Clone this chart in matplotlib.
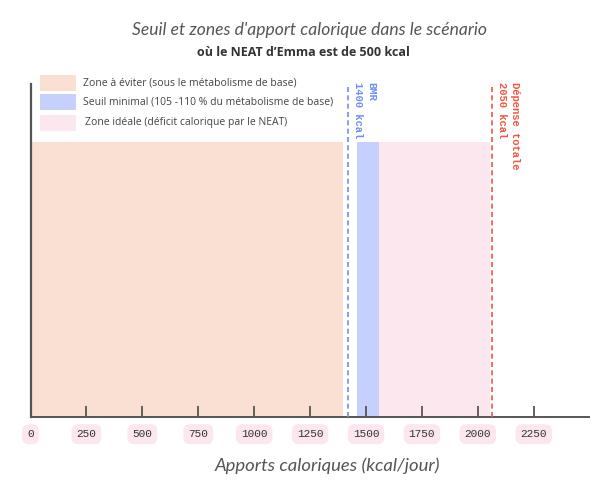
import matplotlib
matplotlib.use("Agg")
import matplotlib.pyplot as plt
from matplotlib.patches import Rectangle

# ---- data ----
zone_names = ["Zone à éviter (sous le métabolisme de base)",
              "Seuil minimal (105 -110 % du métabolisme de base)",
              "Zone idéale (déficit calorique par le NEAT)"]
zone_starts = [0, 1460, 1560]
zone_ends = [1395, 1560, 2055]
zone_colors = ["#fadfd3", "#c6d0fc", "#fde7ee"]
zone_height = 0.825

line_positions = [1418, 2062]
line_labels = ["BMR\n1400 kcal", "Dépense totale\n2050 kcal"]
line_colors = ["#6f8ef3", "#f5543e"]

xticks = [0, 250, 500, 750, 1000, 1250, 1500, 1750, 2000, 2250]
xmax = 2497

W, H = 604, 487
fig = plt.figure(figsize=(W / 100, H / 100), dpi=100)
ax = fig.add_axes([30.5 / W, 1 - 416.7 / H, (589 - 30.5) / W, (416.7 - 84) / H])

for s, e, c in zip(zone_starts, zone_ends, zone_colors):
    ax.bar(s, zone_height, width=e - s, align="edge", color=c, linewidth=0, zorder=1)

for x, lab, c in zip(line_positions, line_labels, line_colors):
    ax.axvline(x, color=c, linestyle=(0, (3, 2)), linewidth=1.2, zorder=3)
    ax.text(x + 22, 1.007, lab, rotation=-90, ha="left", va="top", color=c,
            family="Liberation Mono", fontweight="bold", fontsize=7.6,
            linespacing=1.45, zorder=4, clip_on=False)

ax.set_xlim(0, xmax)
ax.set_ylim(0, 1)
ax.set_yticks([])
ax.set_xticks(xticks)
ax.set_xticklabels([str(t) for t in xticks], family="Liberation Mono", fontsize=8, color="#333")
ax.tick_params(axis="x", direction="in", length=8, width=1.3, color="#555", pad=9)
for lbl in ax.get_xticklabels():
    lbl.set_bbox(dict(boxstyle="round,pad=0.45,rounding_size=0.6", fc="#fde7ee", ec="none"))

for side in ["top", "right"]:
    ax.spines[side].set_visible(False)
ax.spines["bottom"].set_color("#555")
ax.spines["bottom"].set_linewidth(1.4)
ax.spines["left"].set_color("#555")
ax.spines["left"].set_linewidth(1.6)

# legend drawn in figure pixel coords
leg_tops = [75, 94, 115]
for i, (name, c) in enumerate(zip(zone_names, zone_colors)):
    top = leg_tops[i]
    fig.add_artist(Rectangle((40 / W, 1 - (top + 16) / H), 36 / W, 16 / H,
                             transform=fig.transFigure, fc=c, ec="none"))
    fig.text((83 + (2 if i == 2 else 0)) / W, 1 - (top + 8) / H, name,
             family="Open Sans", fontsize=7.5, color="#444", va="center", ha="left")

fig.text(309.5 / W, 1 - 30 / H, "Seuil et zones d'apport calorique dans le scénario",
         family="Lato", fontsize=12.6, color="#555", ha="center", va="center", style="italic")
fig.text(303.5 / W, 1 - 52 / H, "où le NEAT d’Emma est de 500 kcal",
         family="Open Sans", fontweight="bold", fontsize=9, color="#333", ha="center", va="center")
fig.text(327 / W, 1 - 466 / H, "Apports caloriques (kcal/jour)",
         family="Lato", fontsize=13.3, color="#555", ha="center", va="center", style="italic")

fig.savefig("out.png", dpi=100)
